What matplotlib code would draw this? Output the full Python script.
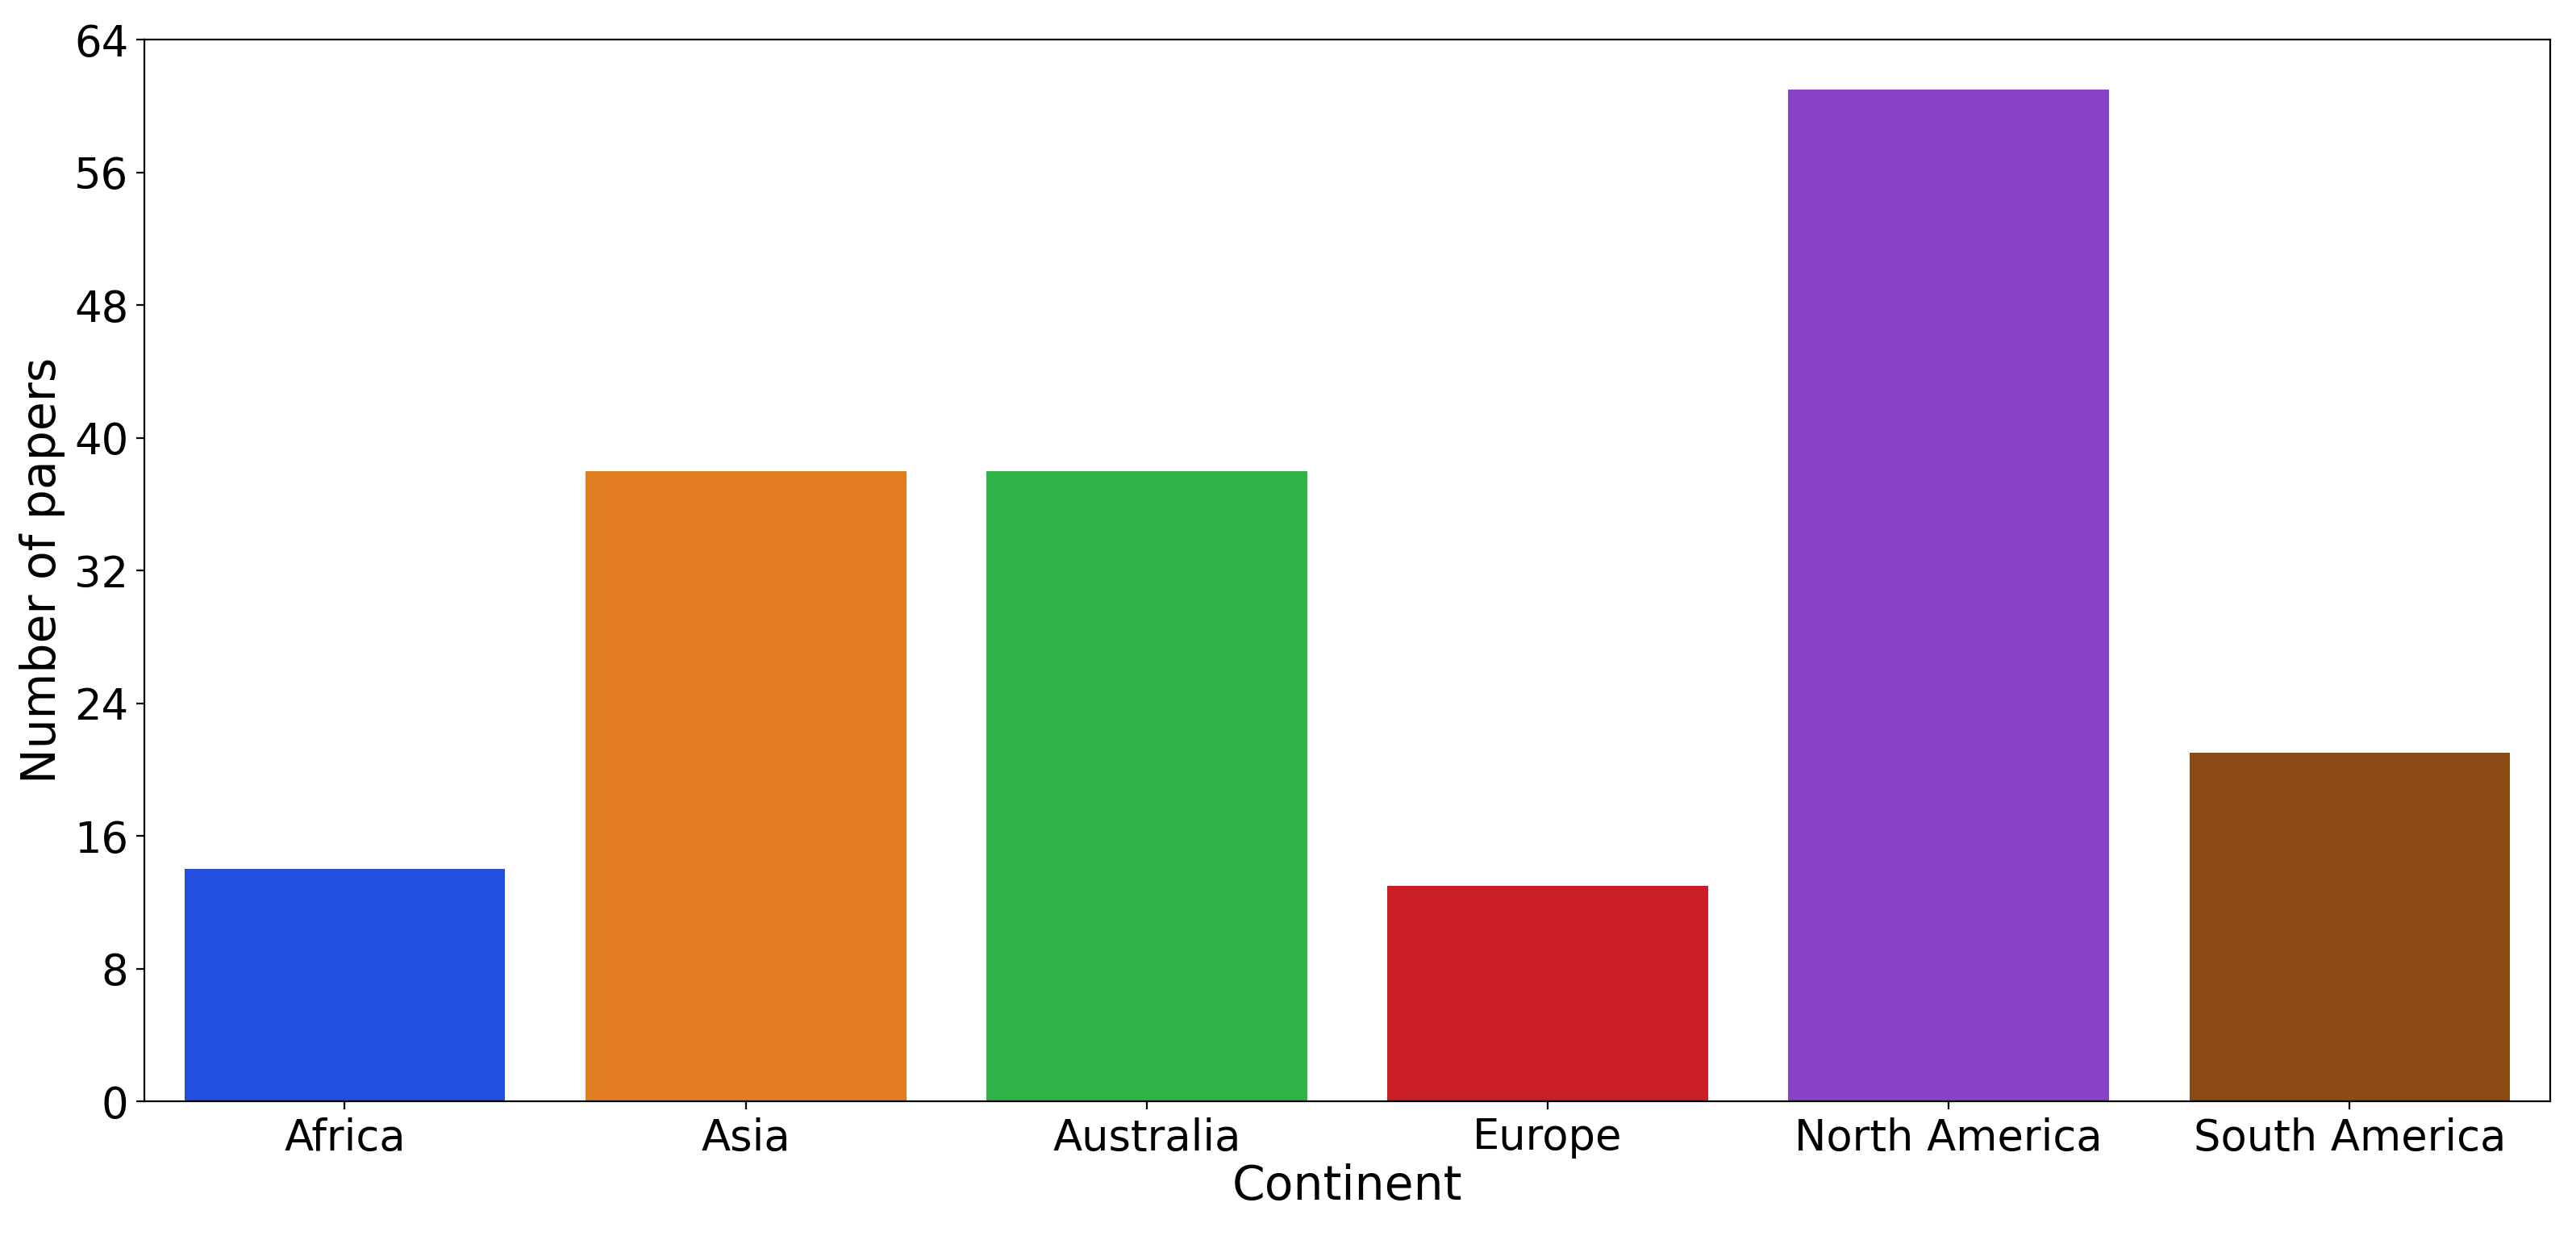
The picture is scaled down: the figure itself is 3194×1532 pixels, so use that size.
import matplotlib
matplotlib.use("Agg")
import matplotlib.pyplot as plt
import seaborn as sns

continents = ["Africa", "Asia", "Australia", "Europe", "North America", "South America"]
papers = [14, 38, 38, 13, 61, 21]
# seaborn barplot draws with saturation 0.75
colors = [sns.desaturate(c, 0.75) for c in sns.color_palette("bright", 6)]

fig = plt.figure(figsize=(15.97, 7.66), dpi=200)
ax = fig.add_axes([0.056, 0.109, 0.934, 0.859])
ax.bar(continents, papers, color=colors, width=0.8)
ax.set_xlim(-0.5, 5.5)
ax.set_ylim(0, 64)
ax.set_yticks(range(0, 65, 8))
ax.tick_params(labelsize=19)
ax.set_xlabel("Continent", fontsize=21, labelpad=2)
ax.set_ylabel("Number of papers", fontsize=21)
fig.savefig("out.png", dpi=200)
